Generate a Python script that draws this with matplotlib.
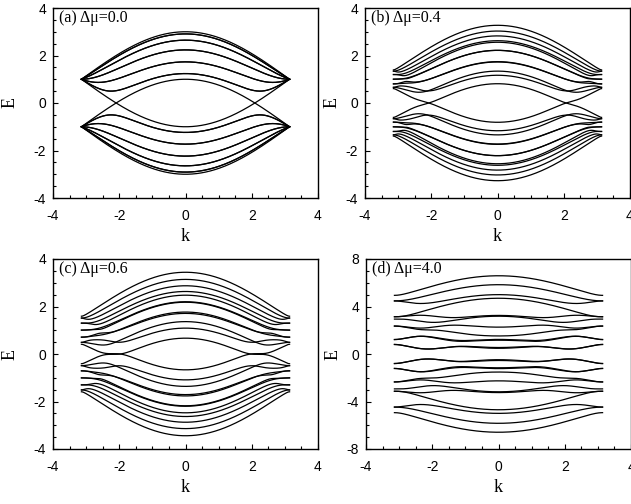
import numpy as np
import matplotlib
matplotlib.use("Agg")
import matplotlib.pyplot as plt
from matplotlib.ticker import MultipleLocator

plt.rcParams["axes.unicode_minus"] = False

# (6,6) armchair tube in a transverse potential V = dmu * cos(theta)
n_dimers = 12
dmu_values = [0.0, 0.4, 0.6, 4.0]
panel_tags = ["(a)", "(b)", "(c)", "(d)"]
y_limits = [(-4, 4), (-4, 4), (-4, 4), (-8, 8)]
y_major = [2, 2, 2, 4]
x_ticks = [-4, -2, 0, 2, 4]

# axes boxes in pixels: left, top, width, height
boxes_px = [(53, 8, 265, 190), (365, 8, 265, 190),
            (53, 259, 265, 190), (366, 259, 265, 190)]
ylabel_x = [-0.162, -0.125, -0.162, -0.125]

W, H = 631, 504


def ring_bands(dmu, k):
    """Eigenvalues of the 2*n_dimers site ring at axial momentum k."""
    size = 2 * n_dimers
    circ = 1.5 * n_dimers
    pos = np.empty(size)
    pos[0::2] = 1.5 * np.arange(n_dimers) - 0.5
    pos[1::2] = 1.5 * np.arange(n_dimers) + 0.5
    theta = 2 * np.pi * pos / circ
    h = np.diag(dmu * np.cos(theta))
    t_inter = 2 * np.cos(k / 2)
    for j in range(n_dimers):
        a, b = 2 * j, 2 * j + 1
        nxt = (2 * j + 2) % size
        h[a, b] = h[b, a] = -1.0
        h[b, nxt] = h[nxt, b] = -t_inter
    return np.linalg.eigvalsh(h)


k_grid = np.linspace(-np.pi, np.pi, 601)

fig = plt.figure(figsize=(W / 100, H / 100), dpi=100)
fig.patch.set_facecolor("white")

for i, dmu in enumerate(dmu_values):
    l, t, w, hgt = boxes_px[i]
    ax = fig.add_axes([l / W, 1 - (t + hgt) / H, w / W, hgt / H])

    energies = np.array([ring_bands(dmu, k) for k in k_grid])
    for band in energies.T:
        ax.plot(k_grid, band, color="black", lw=0.9)

    ax.set_xlim(-4, 4)
    ax.set_ylim(*y_limits[i])
    ax.set_xticks(x_ticks)
    ax.yaxis.set_major_locator(MultipleLocator(y_major[i]))
    ax.xaxis.set_minor_locator(MultipleLocator(0.5))
    ax.yaxis.set_minor_locator(MultipleLocator(y_major[i] / 4))
    ax.tick_params(which="both", direction="in", top=False, right=False)
    ax.tick_params(which="major", length=3.5, width=0.8)
    ax.tick_params(which="minor", length=2.5, width=0.8)
    ax.tick_params(axis="x", pad=8)
    ax.tick_params(axis="y", pad=5)
    for lab in ax.get_xticklabels() + ax.get_yticklabels():
        lab.set_fontfamily("Liberation Sans")
        lab.set_fontsize(10)
    for sp in ax.spines.values():
        sp.set_linewidth(1.0)

    ax.set_xlabel("k", family="Liberation Serif", fontsize=13)
    ax.set_ylabel("E", family="Liberation Serif", fontsize=13, rotation=90)
    ax.xaxis.set_label_coords(0.5, -0.205)
    ax.xaxis.label.set_verticalalignment("center")
    ax.yaxis.set_label_coords(ylabel_x[i], 0.5)
    ax.yaxis.label.set_verticalalignment("center")

    ax.text(0.024, 0.945, f"{panel_tags[i]} \u0394\u03bc={dmu:.1f}",
            transform=ax.transAxes, ha="left", va="center",
            family="Liberation Serif", fontsize=11.5)

fig.savefig("out.png", dpi=100, facecolor="white")
